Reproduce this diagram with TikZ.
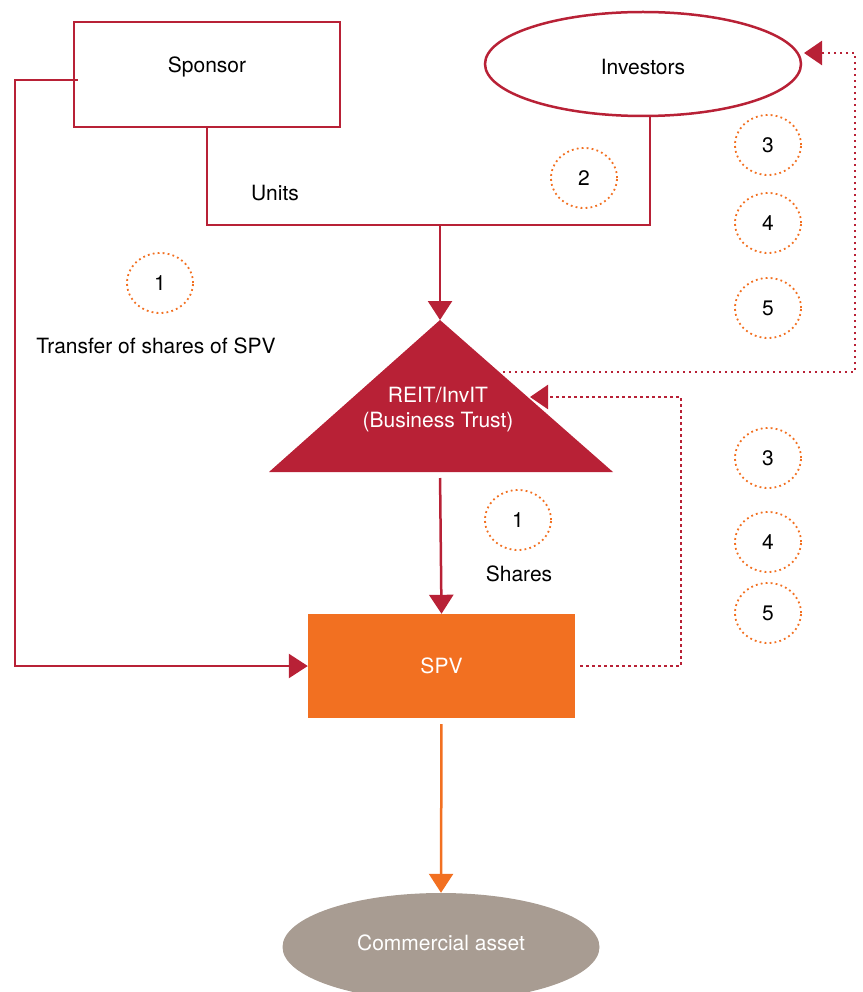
\documentclass[tikz,border=0pt]{standalone}
\usepackage{fontspec}
\setmainfont{TeX Gyre Heros}
\usetikzlibrary{arrows.meta,shapes.geometric}
\definecolor{trustred}{RGB}{184,33,54}
\definecolor{spvorange}{RGB}{242,112,33}
\definecolor{assetgray}{RGB}{168,156,146}
\begin{document}
\begin{tikzpicture}[x=1pt,y=-1pt,
	every node/.style={font=\fontsize{21}{25}\selectfont},
	every label/.style={font=\fontsize{21}{25}\selectfont},
	redline/.style={draw=trustred,line width=2.5pt},
	redarrow/.style={redline,-{Triangle[width=24pt,length=19pt]}},
	dotline/.style={draw=trustred,line width=2.4pt,dash pattern=on 2.4pt off 3.6pt,
		-{Triangle[width=24pt,length=18pt]}},
	numring/.style={ellipse,draw=spvorange,line width=1.8pt,dash pattern=on 1.8pt off 3.2pt,
		minimum width=66pt,minimum height=60pt,inner sep=0pt},
	lighttext/.style={text=white,align=center}]
		\useasboundingbox (0,0) rectangle (862,992);
		\node[draw=trustred,line width=2.5pt,minimum width=266pt,minimum height=105pt,
			label={[yshift=7.5pt]center:Sponsor}] (sponsor) at (207,74.5) {};
		\node[ellipse,draw=trustred,line width=2.5pt,minimum width=316pt,minimum height=104pt,
			label={[yshift=-3pt]center:Investors}] (investors) at (643,64) {};
		\coordinate (trustTop) at (440,320);
		\coordinate (trustL) at (269,472);
		\coordinate (trustR) at (613,472);
		\coordinate (trustBase) at (440,472);
		\fill[trustred] (trustTop) -- (trustR) -- (trustL) -- cycle;
		\node[lighttext] (trust) at (438,410) {REIT/InvIT\\(Business Trust)};
		\node[fill=spvorange,lighttext,minimum width=267pt,minimum height=104pt] (spv) at (441.5,666) {SPV};
		\node[ellipse,fill=assetgray,minimum width=317pt,minimum height=108pt,
			label={[yshift=4pt,text=white]center:Commercial asset}] (asset) at (441,947) {};

		\coordinate (unitsJoin) at (440,225);
		\draw[redline] (sponsor.south) |- (unitsJoin) -| ([xshift=7pt]investors.south);
		\draw[redarrow] (unitsJoin) -- (trustTop);
		\draw[redarrow,shorten <=6pt] (trustBase) -- (spv.north);
		\coordinate (leftBend) at (15,666);
		\draw[redarrow] ([yshift=-5.5pt,xshift=5pt]sponsor.west) -| (leftBend) -- (spv.west);
		\draw[draw=spvorange,line width=2.5pt,-{Triangle[width=24pt,length=19pt]},shorten <=6pt] (spv.south) -- (asset.north);

		\coordinate (trustOut) at (503,372);
		\coordinate (rightRail) at (855,372);
		\coordinate (invIn) at (804,53);
		\draw[dotline] (trustOut) -- (rightRail) |- (invIn);
		\coordinate (midRail) at (681,397);
		\coordinate (trustIn) at (530,397);
		\draw[dotline,shorten <=5pt] (spv.east) -| (midRail) -- (trustIn);

		\node (units) at (275,193) {Units};
		\node (transfer) at (156,346) {Transfer of shares of SPV};
		\node (shares) at (519,574) {Shares};
		\node[numring] (stepA) at (160,283) {1};
		\node[numring] (stepB) at (584,178) {2};
		\node[numring] (stepC) at (768,145) {3};
		\node[numring] (stepD) at (768,223) {4};
		\node[numring] (stepE) at (768,308) {5};
		\node[numring] (stepF) at (518,520) {1};
		\node[numring] (stepG) at (768,458) {3};
		\node[numring] (stepH) at (768,542) {4};
		\node[numring] (stepI) at (768,613) {5};
\end{tikzpicture}
\end{document}
